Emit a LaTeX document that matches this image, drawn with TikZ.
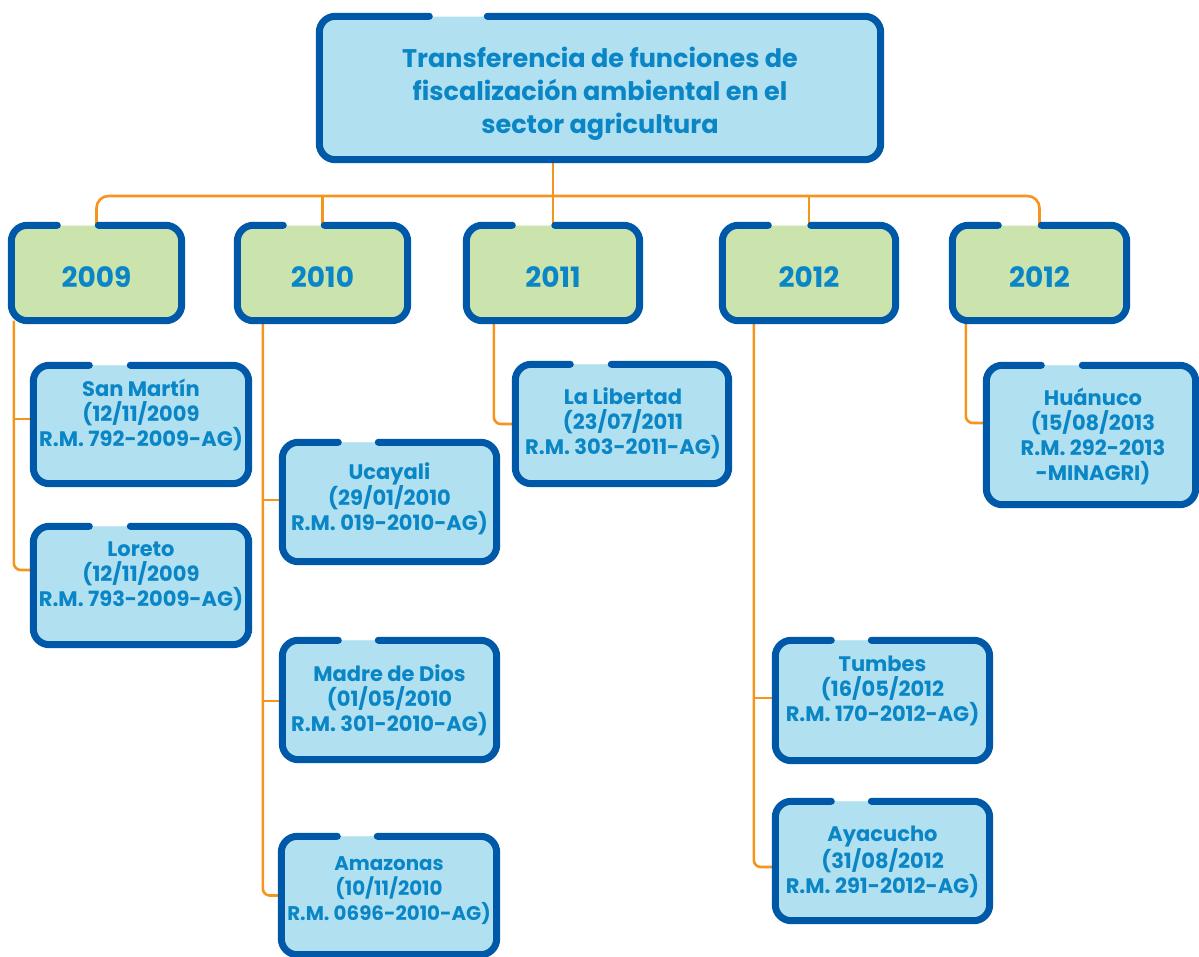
\documentclass[tikz,border=0pt]{standalone}
\usepackage{fontspec}
\setmainfont{Poppins}
\usetikzlibrary{calc}
\definecolor{bdr}{RGB}{0,88,168}
\definecolor{lblue}{RGB}{177,224,240}
\definecolor{lgreen}{RGB}{203,227,173}
\definecolor{txt}{RGB}{10,133,198}
\definecolor{orng}{RGB}{247,148,29}
\tikzset{
  box/.style={rectangle, draw=none, rounded corners=16pt, inner sep=0pt, fill=lblue},
  yearbox/.style={box, fill=lgreen, text=txt, text height=28pt, text depth=0pt,
    font=\bfseries\fontsize{28}{32}\selectfont},
  titlebox/.style={box},
  childbox/.style={box},
  border/.style={draw=bdr, line width=7pt, line cap=round, rounded corners=16pt},
  conn/.style={draw=orng, line width=2.6pt, rounded corners=7pt},
  busline/.style={conn, rounded corners=12pt},
  lbl/.style={text=txt, align=center, inner sep=0pt, font=\bfseries\fontsize{21}{25}\selectfont},
  lblsmall/.style={lbl, font=\bfseries\fontsize{19.8}{25}\selectfont},
  ttl/.style={text=txt, align=center, inner sep=0pt, font=\bfseries\fontsize{25.5}{33}\selectfont},
}
\newcommand\gapborder[3]{\draw[border] ($(#1.north west)+(#3,0)$) -| (#1.south east) -| (#1.north west) -- ($(#1.north west)+(#2,0)$);}
\begin{document}
\begin{tikzpicture}[x=1pt,y=-1pt]
\useasboundingbox (0,0) rectangle (1199,956);
% boxes (fill only, borders drawn later)
\node[titlebox, minimum width=561pt, minimum height=143pt] (tb) at (600,88) {};
\node[yearbox, minimum width=170pt, minimum height=95pt] (y2009) at (96.5,273) {2009};
\node[yearbox, minimum width=170pt, minimum height=95pt] (y2010) at (322.5,273) {2010};
\node[yearbox, minimum width=173pt, minimum height=95pt] (y2011) at (553,273) {2011};
\node[yearbox, minimum width=173pt, minimum height=95pt] (y2012) at (809,273) {2012};
\node[yearbox, minimum width=174pt, minimum height=95pt] (y2012b) at (1039.5,273) {2012};
\node[childbox, minimum width=215pt, minimum height=118pt] (sm) at (141,424.5) {};
\node[childbox, minimum width=215pt, minimum height=118pt] (lo) at (141,585.5) {};
\node[childbox, minimum width=214pt, minimum height=119pt] (uc) at (389.5,502) {};
\node[childbox, minimum width=214pt, minimum height=119pt] (md) at (389.5,700) {};
\node[childbox, minimum width=215pt, minimum height=118pt] (am) at (389,895.5) {};
\node[childbox, minimum width=213pt, minimum height=119pt] (ll) at (622,424) {};
\node[childbox, minimum width=214pt, minimum height=120pt] (tu) at (882.5,700.5) {};
\node[childbox, minimum width=214pt, minimum height=119pt] (ay) at (882.5,861) {};
\node[childbox, minimum width=209pt, minimum height=139pt] (hu) at (1091,435) {};
% connectors
\coordinate (bus) at (553,196);
\draw[conn] (y2011.north |- tb.south) -- (y2011.north);
\draw[busline] (y2009.north) |- (bus) -| (y2012b.north);
\draw[conn] (y2010.north) -- (y2010.north |- bus);
\draw[conn] (y2012.north) -- (y2012.north |- bus);
\coordinate (d2009) at ($(y2009.south west)+(2.5,0)$);
\coordinate (d2010) at ($(y2010.south west)+(25.5,0)$);
\coordinate (d2011) at ($(y2011.south west)+(27.5,0)$);
\coordinate (d2012) at ($(y2012.south west)+(31.5,0)$);
\coordinate (d2012b) at ($(y2012b.south west)+(13.5,0)$);
\coordinate (bsm) at ($(sm.west)+(0,-5.5)$);
\coordinate (blo) at ($(lo.west)+(0,-15.5)$);
\coordinate (buc) at ($(uc.west)+(0,-2)$);
\coordinate (bmd) at ($(md.west)+(0,1)$);
\coordinate (btu) at ($(tu.west)+(0,-2.5)$);
\coordinate (bay) at ($(ay.west)+(0,6)$);
\coordinate (bhu) at ($(hu.west)+(0,-12)$);
\draw[conn] (d2009) |- (blo);
\draw[conn] (d2009 |- bsm) -- (bsm);
\draw[conn] (d2010) |- (am.west);
\draw[conn] (d2010 |- buc) -- (buc);
\draw[conn] (d2010 |- bmd) -- (bmd);
\draw[conn] (d2011) |- (ll.west);
\draw[conn] (d2012) |- (bay);
\draw[conn] (d2012 |- btu) -- (btu);
\draw[conn] (d2012b) |- (bhu);
% refill boxes over connector ends
\foreach \n in {sm,lo,uc,md,am,ll,tu,ay,hu}{\fill[lblue, rounded corners=16pt] (\n.north west) rectangle (\n.south east);}
% borders with gaps
\gapborder{tb}{110}{168}
\gapborder{y2009}{46}{87}
\gapborder{y2010}{46}{87}
\gapborder{y2011}{46}{88.5}
\gapborder{y2012}{46}{88.5}
\gapborder{y2012b}{46}{89}
\gapborder{sm}{56}{97}
\gapborder{lo}{56}{97}
\gapborder{uc}{56}{96}
\gapborder{md}{56}{96}
\gapborder{am}{56}{96}
\gapborder{ll}{55}{96}
\gapborder{tu}{56}{96}
\gapborder{ay}{56}{96}
\gapborder{hu}{55}{96}
% texts
\node[ttl] (ttb) at (600,94) {Transferencia de funciones de\\fiscalización ambiental en el\\sector agricultura};
\node[lbl] (tsm) at (141,415) {San Martín\\(12/11/2009\\R.M. 792-2009-AG)};
\node[lbl] (tlo) at (141,576) {Loreto\\(12/11/2009\\R.M. 793-2009-AG)};
\node[lbl] (tuc) at (389.5,499) {Ucayali\\(29/01/2010\\R.M. 019-2010-AG)};
\node[lbl] (tmd) at (389.5,700) {Madre de Dios\\(01/05/2010\\R.M. 301-2010-AG)};
\node[lblsmall] (tam) at (389,891) {Amazonas\\(10/11/2010\\R.M. 0696-2010-AG)};
\node[lbl] (tll) at (623,423) {La Libertad\\(23/07/2011\\R.M. 303-2011-AG)};
\node[lbl] (ttu) at (882.5,691) {Tumbes\\(16/05/2012\\R.M. 170-2012-AG)};
\node[lbl] (tay) at (882.5,862) {Ayacucho\\(31/08/2012\\R.M. 291-2012-AG)};
\node[lbl] (thu) at (1093,436) {Huánuco\\(15/08/2013\\R.M. 292-2013\\-MINAGRI)};
\end{tikzpicture}
\end{document}
